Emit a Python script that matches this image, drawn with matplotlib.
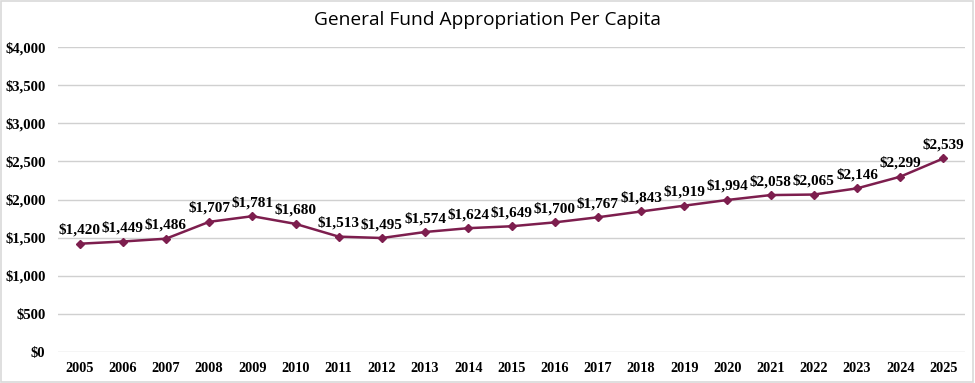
import matplotlib
matplotlib.use("Agg")
import matplotlib.pyplot as plt
from matplotlib.patches import Rectangle

years = [str(y) for y in range(2005, 2026)]
values = [1420, 1449, 1486, 1707, 1781, 1680, 1513, 1495, 1574, 1624, 1649,
          1700, 1767, 1843, 1919, 1994, 2058, 2065, 2146, 2299, 2539]
yticks = [0, 500, 1000, 1500, 2000, 2500, 3000, 3500, 4000]

W, H = 975, 383
fig = plt.figure(figsize=(W / 100, H / 100), dpi=100)
ax = fig.add_axes([58 / W, 1 - 352 / H, (965 - 58) / W, (352 - 47) / H])

x = list(range(len(years)))
color = "#7D1E4E"
ax.plot(x, values, color=color, lw=1.8, marker="D", ms=4.2, zorder=3)

serif = ["Liberation Serif", "DejaVu Serif"]
for xi, v in zip(x, values):
    ax.annotate(f"${v:,}", (xi, v), xytext=(0, 5), textcoords="offset points",
                ha="center", va="bottom", fontsize=11, fontweight="bold",
                family=serif, color="black")

ax.set_xlim(-0.5, len(years) - 0.5)
ax.set_ylim(0, 4000)
ax.set_yticks(yticks)
ax.set_yticklabels([f"${t:,}" for t in yticks], family=serif, fontweight="bold", fontsize=10.6)
ax.set_xticks(x)
ax.set_xticklabels(years, family=serif, fontweight="bold", fontsize=10.3)
ax.tick_params(axis="both", length=0)
ax.tick_params(axis="y", pad=9)
ax.tick_params(axis="x", pad=7)
ax.grid(axis="y", color="#D0D0D0", lw=1)
ax.set_axisbelow(True)
for s in ax.spines.values():
    s.set_visible(False)

fig.text(0.5, 1 - 20 / H, "General Fund Appropriation Per Capita", ha="center", va="center",
         fontsize=13.8, family=["Open Sans", "DejaVu Sans"], color="black")

fig.patches.append(Rectangle((0.001, 0.002), 0.997, 0.995, transform=fig.transFigure,
                             fill=False, edgecolor="#D9D9D9", lw=1.2))

fig.savefig("out.png", dpi=100)
